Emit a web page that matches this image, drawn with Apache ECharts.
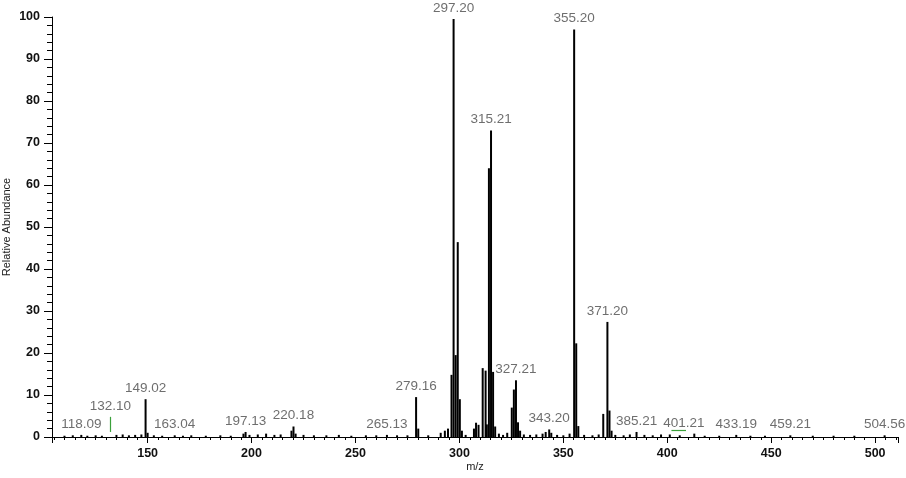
<!DOCTYPE html>
<html>
<head>
<meta charset="utf-8">
<script src="https://cdn.jsdelivr.net/npm/echarts@6/dist/echarts.min.js"></script>
<style>
html,body{margin:0;padding:0;background:#fff;}
#chart{width:906px;height:478px;}
</style>
</head>
<body>
<div id="chart"></div>
<script>
// m/z of each stick and its relative abundance
const peakMz = [110,114,118.09,121,125,128,135,138,141,144,147,149.02,150.0,153,157,163.04,167,171,178,185,190,196.1,197.13,199,203,207,211,214,219.2,220.18,221.2,225,230,236,242,248,255,260,265.13,270,275,279.16,280.2,285,291,293,294.5,296.2,297.2,298.2,299.2,300.2,301.2,303,307,308,309.2,311.2,312.6,313.2,314.2,315.21,316.2,317.2,319,321,323,325.2,326.2,327.21,328.2,329.2,331,334,337,340,341.5,343.2,344.2,347,350,353,355.2,356.2,357.2,360,364,367,369.2,371.2,372.2,373.2,375,379,382,385.21,389,393,397,401.21,406,413,418,425,433.19,440,447,459.21,470,480,490,504.56];
const peakAbund = [0.3,0.4,0.5,0.3,0.4,0.3,0.5,0.6,0.4,0.5,0.6,9.0,1.0,0.4,0.3,0.4,0.3,0.4,0.3,0.4,0.3,0.8,1.2,0.5,0.6,0.8,0.5,0.6,1.5,2.5,0.8,0.5,0.4,0.4,0.5,0.3,0.4,0.4,0.5,0.4,0.4,9.5,2.0,0.4,1.0,1.5,2.0,14.8,99.5,19.5,46.4,9.0,1.5,0.5,2.0,3.4,2.9,16.4,15.8,3.0,64,73,15.5,2.5,0.8,0.5,1.0,7.0,11.3,13.5,3.5,1.5,0.6,0.5,0.6,0.8,1.2,1.8,1.0,0.5,0.4,0.8,97,22.3,2.6,0.5,0.4,0.6,5.5,27.4,6.3,1.5,0.5,0.4,0.6,1.2,0.5,0.4,0.6,0.6,0.4,0.8,0.3,0.3,0.5,0.3,0.3,0.4,0.3,0.3,0.3,0.4];

// peak annotations: text, m/z anchor, height the label sits on
const labelText = ['118.09','132.10','149.02','163.04','197.13','220.18','265.13','279.16','297.20','315.21','327.21','343.20','355.20','371.20','385.21','401.21','433.19','459.21','504.56'];
const labelMz = [118.09,132.10,149.02,163.04,197.13,220.18,265.13,279.16,297.20,315.21,327.21,343.20,355.20,371.20,385.21,401.21,433.19,459.21,504.56];
const labelHeight = [0.5,4.8,9.0,0.4,1.2,2.5,0.5,9.5,99.5,73,13.5,1.8,97,27.4,1.2,0.6,0.5,0.4,0.4];

// green annotation strokes (m/z, abundance) start/end
const greenMarkStart = [[132.1,1.2],[402,1.6]];
const greenMarkEnd = [[132.1,4.8],[409,1.6]];

const xMin = 104, xMax = 511;
const yTicks = [0,10,20,30,40,50,60,70,80,90,100];

const chart = echarts.init(document.getElementById('chart'), null, {renderer:'canvas'});

const stickData = peakMz.map((m,i)=>[m,peakAbund[i]]);
const labelData = labelText.map((t,i)=>{
  const item = {value:[labelMz[i],labelHeight[i],t]};
  if (t === '401.21') item.label = {offset:[14,0]};
  return item;
});
const markData = greenMarkStart.map((s,i)=>[{coord:s},{coord:greenMarkEnd[i]}]);

const font = 'Arial, "Liberation Sans", sans-serif';

chart.setOption({
  animation:false,
  backgroundColor:'#ffffff',
  grid:{left:52,right:8,top:17,bottom:41,containLabel:false,outerBoundsMode:'none'},
  xAxis:{
    type:'value', min:xMin, max:xMax, splitNumber:8,
    name:'m/z', nameLocation:'middle', nameGap:24, nameMoveOverlap:false,
    nameTextStyle:{fontFamily:font,fontSize:11,color:'#222'},
    axisLine:{show:true,onZero:false,lineStyle:{color:'#000',width:1}},
    axisTick:{show:true,length:6,lineStyle:{color:'#000',width:1}},
    minorTick:{show:true,splitNumber:10,length:3,lineStyle:{color:'#000',width:1}},
    axisLabel:{fontFamily:font,fontSize:12.5,fontWeight:'bold',color:'#111',margin:10,showMinLabel:false,showMaxLabel:false},
    splitLine:{show:false}
  },
  yAxis:{
    type:'value', min:yTicks[0], max:yTicks[yTicks.length-1], interval:10,
    name:'Relative Abundance', nameLocation:'middle', nameGap:40, nameRotate:90, nameMoveOverlap:false,
    nameTextStyle:{fontFamily:font,fontSize:11,color:'#222'},
    axisLine:{show:true,lineStyle:{color:'#000',width:1}},
    axisTick:{show:true,length:8,lineStyle:{color:'#000',width:1}},
    minorTick:{show:true,splitNumber:5,length:5,lineStyle:{color:'#000',width:1}},
    axisLabel:{fontFamily:font,fontSize:12.5,fontWeight:'bold',color:'#111',margin:12},
    splitLine:{show:false}
  },
  series:[
    {
      type:'custom',
      data:stickData,
      silent:true,
      renderItem:function(params, api){
        const x = api.value(0), y = api.value(1);
        const p0 = api.coord([x,0]);
        const p1 = api.coord([x,y]);
        return {type:'line',shape:{x1:p0[0],y1:p0[1],x2:p1[0],y2:p1[1]},
          style:{stroke:'#000',lineWidth:2}};
      },
      markLine:{
        silent:true, symbol:['none','none'],
        label:{show:false},
        lineStyle:{color:'#3aa03a',width:1.2,type:'solid'},
        data:markData
      }
    },
    {
      type:'scatter',
      data:labelData,
      symbolSize:0,
      silent:true,
      label:{
        show:true, position:'top', distance:4,
        fontFamily:font, fontSize:13.5, color:'#4a4a4a',
        formatter:function(p){return p.data.value[2];}
      }
    }
  ]
});
</script>
</body>
</html>
